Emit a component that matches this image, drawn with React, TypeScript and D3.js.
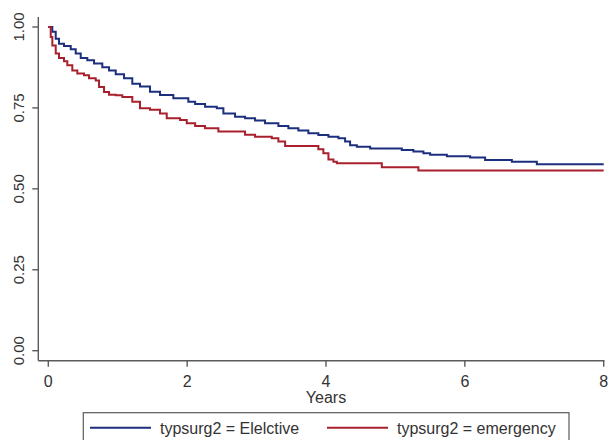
import React from "react";
import * as d3 from "d3";

const electiveTimes = [0, 0.058, 0.107, 0.154, 0.226, 0.323, 0.395, 0.467, 0.562, 0.659, 0.778, 0.875, 0.971, 1.091, 1.21, 1.321, 1.465, 1.609, 1.801, 2.017, 2.115, 2.258, 2.427, 2.522, 2.69, 2.834, 2.978, 3.122, 3.314, 3.458, 3.602, 3.746, 3.89, 4.035, 4.179, 4.275, 4.347, 4.444, 4.636, 5.092, 5.259, 5.403, 5.5, 5.741, 6.076, 6.292, 6.677, 7.037, 8.0];
const electiveSurv = [1.0, 0.985, 0.964, 0.948, 0.941, 0.931, 0.918, 0.904, 0.897, 0.887, 0.876, 0.866, 0.854, 0.842, 0.825, 0.816, 0.8, 0.79, 0.78, 0.769, 0.762, 0.754, 0.749, 0.733, 0.723, 0.718, 0.711, 0.703, 0.694, 0.687, 0.68, 0.672, 0.666, 0.661, 0.656, 0.646, 0.635, 0.63, 0.625, 0.62, 0.615, 0.61, 0.605, 0.601, 0.597, 0.589, 0.584, 0.576, 0.576];

const emergencyTimes = [0, 0.035, 0.058, 0.107, 0.154, 0.226, 0.274, 0.346, 0.418, 0.514, 0.586, 0.683, 0.731, 0.803, 0.875, 0.971, 1.066, 1.21, 1.321, 1.465, 1.609, 1.706, 1.898, 1.994, 2.115, 2.258, 2.45, 2.834, 2.978, 3.219, 3.314, 3.411, 3.89, 3.962, 4.035, 4.107, 4.156, 4.804, 5.331, 8.0];
const emergencySurv = [1.0, 0.969, 0.943, 0.918, 0.904, 0.894, 0.882, 0.866, 0.856, 0.851, 0.842, 0.835, 0.815, 0.799, 0.791, 0.789, 0.784, 0.769, 0.749, 0.744, 0.733, 0.718, 0.713, 0.703, 0.694, 0.687, 0.677, 0.667, 0.661, 0.656, 0.646, 0.632, 0.622, 0.61, 0.591, 0.584, 0.579, 0.567, 0.557, 0.557];

const xTicks = [0, 2, 4, 6, 8];
const yTicks = [0, 0.25, 0.5, 0.75, 1];
const xLabel = "Years";
const legendLabels = ["typsurg2 = Elelctive", "typsurg2 = emergency"];
const seriesColors = ["#1b2f7c", "#a8202c"];

export default function App() {
  const x = d3.scaleLinear().domain([0, 8]).range([48.3, 603.7]);
  const y = d3.scaleLinear().domain([0, 1]).range([350.7, 27]);
  const line = d3
    .line<[number, number]>()
    .x((d) => x(d[0]))
    .y((d) => y(d[1]))
    .curve(d3.curveStepAfter);

  const series = [
    electiveTimes.map((t, i) => [t, electiveSurv[i]] as [number, number]),
    emergencyTimes.map((t, i) => [t, emergencySurv[i]] as [number, number]),
  ];

  const axisColor = "#5a5a5a";
  const textColor = "#333";
  const font = "Liberation Sans, Arial, sans-serif";
  const xAxisY = 360.7;
  const yAxisX = 38.3;

  return (
    <svg
      width={612}
      height={440}
      style={{ position: "absolute", left: 0, top: 0, background: "#fff" }}
      fontFamily={font}
    >
      <rect x={0} y={0} width={612} height={440} fill="#fff" />
      {/* y axis */}
      <line x1={yAxisX} x2={yAxisX} y1={17} y2={xAxisY} stroke={axisColor} strokeWidth={1.4} />
      {yTicks.map((v) => (
        <g key={v}>
          <line x1={yAxisX - 6} x2={yAxisX} y1={y(v)} y2={y(v)} stroke={axisColor} strokeWidth={1.4} />
          <text
            transform={`translate(${yAxisX - 14},${y(v)}) rotate(-90)`}
            textAnchor="middle"
            fontSize={15}
            fill={textColor}
          >
            {v.toFixed(2)}
          </text>
        </g>
      ))}
      {/* x axis */}
      <line x1={yAxisX} x2={604.5} y1={xAxisY} y2={xAxisY} stroke={axisColor} strokeWidth={1.4} />
      {xTicks.map((v) => (
        <g key={v}>
          <line x1={x(v)} x2={x(v)} y1={xAxisY} y2={xAxisY + 6} stroke={axisColor} strokeWidth={1.4} />
          <text x={x(v)} y={387} textAnchor="middle" fontSize={16} fill={textColor}>
            {v}
          </text>
        </g>
      ))}
      <text x={326} y={403} textAnchor="middle" fontSize={16} fill={textColor}>
        {xLabel}
      </text>
      {/* curves */}
      {series.map((s, i) => (
        <path key={i} d={line(s) || ""} fill="none" stroke={seriesColors[i]} strokeWidth={2} />
      ))}
      {/* legend */}
      <rect x={83.3} y={412.7} width={485.7} height={40} fill="#fff" stroke={axisColor} strokeWidth={1.2} />
      {legendLabels.map((lab, i) => {
        const lx = i === 0 ? 90 : 327;
        return (
          <g key={lab}>
            <line x1={lx} x2={lx + 61} y1={427.7} y2={427.7} stroke={seriesColors[i]} strokeWidth={2} />
            <text x={lx + 70} y={433.5} fontSize={16} fill={textColor}>
              {lab}
            </text>
          </g>
        );
      })}
    </svg>
  );
}
